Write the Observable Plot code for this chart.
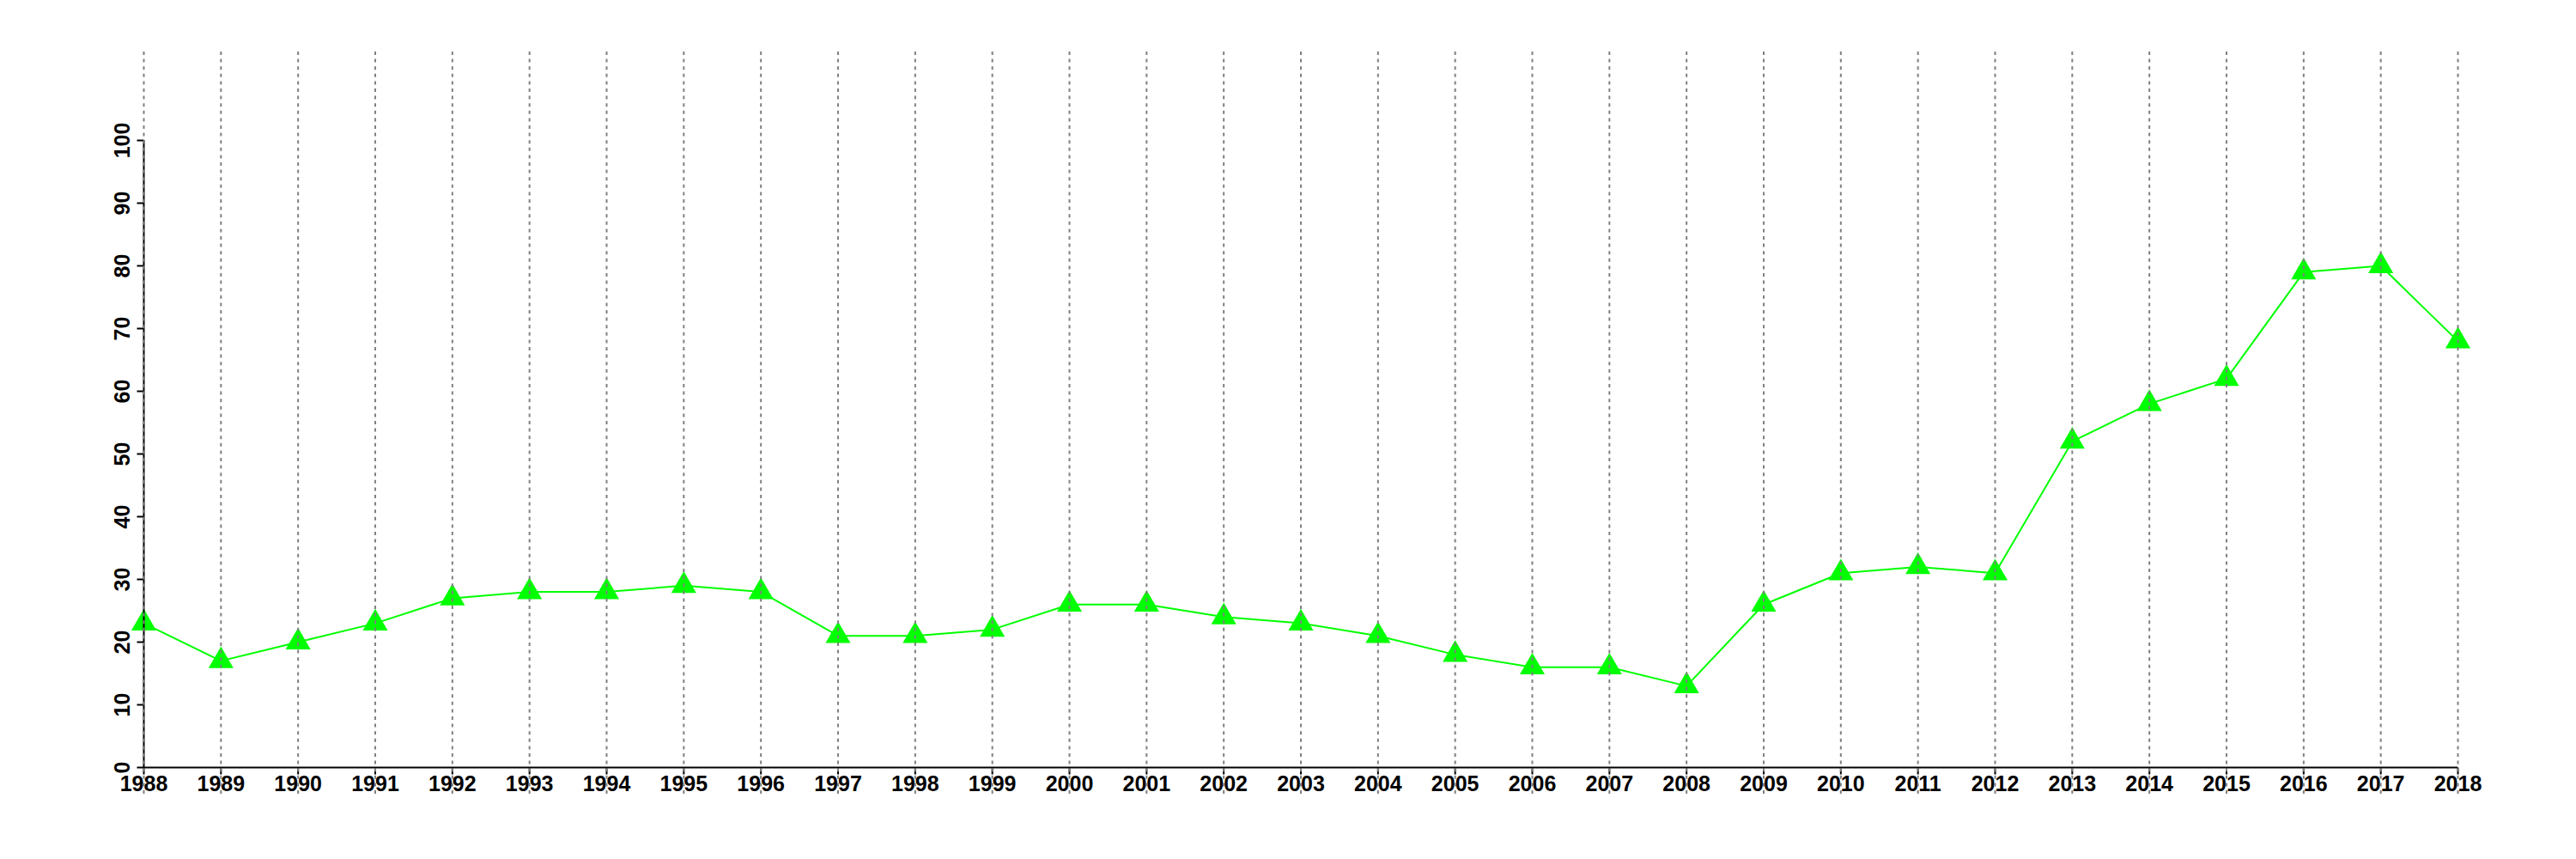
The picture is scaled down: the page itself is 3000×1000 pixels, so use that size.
<!DOCTYPE html>
<html>
<head>
<meta charset="utf-8">
<script src="https://cdn.jsdelivr.net/npm/d3@7"></script>
<script src="https://cdn.jsdelivr.net/npm/@observablehq/plot@0.6"></script>
<style>
  html, body { margin: 0; padding: 0; background: #fff; }
</style>
</head>
<body>
<div id="chart"></div>
<script>
const years = [1988,1989,1990,1991,1992,1993,1994,1995,1996,1997,1998,1999,2000,2001,2002,2003,2004,2005,2006,2007,2008,2009,2010,2011,2012,2013,2014,2015,2016,2017,2018];
const values = [23,17,20,23,27,28,28,29,28,21,21,22,26,26,24,23,21,18,16,16,13,26,31,32,31,52,58,62,79,80,68];
const yTicks = [0,10,20,30,40,50,60,70,80,90,100];

const data = years.map((y, i) => ({year: y, value: values[i]}));

const tickDown = { draw(ctx) { ctx.moveTo(0, 0); ctx.lineTo(0, 8); } };
const tickLeft = { draw(ctx) { ctx.moveTo(0, 0); ctx.lineTo(-8, 0); } };

const font = "Liberation Sans, Arial, Helvetica, sans-serif";

const chart = Plot.plot({
  width: 3000,
  height: 1000,
  marginLeft: 167,
  marginRight: 138,
  marginTop: 60,
  marginBottom: 73,
  style: { fontFamily: font, background: "#fff" },
  x: { domain: [d3.min(years), d3.max(years)], axis: null },
  y: { domain: [0, 100], range: [893, 163], axis: null },
  marks: [
    // series
    Plot.line(data, { x: "year", y: "value", stroke: "#00ff00", strokeWidth: 2 }),
    Plot.dot(data, { x: "year", y: "value", symbol: "triangle", r: 10.8, fill: "#00ff00", stroke: "none" }),
    // axis lines
    Plot.ruleY([0], { x1: d3.min(years), x2: d3.max(years), stroke: "#000", strokeWidth: 2 }),
    Plot.ruleX([d3.min(years)], { y1: 0, y2: 100, stroke: "#000", strokeWidth: 2 }),
    // ticks
    Plot.dot(years, { x: d => d, y: 0, symbol: tickDown, stroke: "#000", strokeWidth: 2, fill: "none", r: 4 }),
    Plot.dot(yTicks, { x: d3.min(years), y: d => d, symbol: tickLeft, stroke: "#000", strokeWidth: 2, fill: "none", r: 4 }),
    // tick labels
    Plot.text(years, { x: d => d, y: 0, text: d => String(d), dy: 19, lineAnchor: "middle", textAnchor: "middle", fontSize: 25, fontWeight: "bold", fill: "#000" }),
    Plot.text(yTicks, { x: d3.min(years), y: d => d, text: d => String(d), dx: -25, rotate: -90, lineAnchor: "middle", textAnchor: "middle", fontSize: 25, fontWeight: "bold", fill: "#000" }),
    // vertical dotted grid drawn on top
    Plot.gridX(years, { stroke: "#808080", strokeOpacity: 1, strokeWidth: 2, strokeDasharray: "4,4.6" })
  ]
});

document.getElementById("chart").appendChild(chart);
</script>
</body>
</html>
